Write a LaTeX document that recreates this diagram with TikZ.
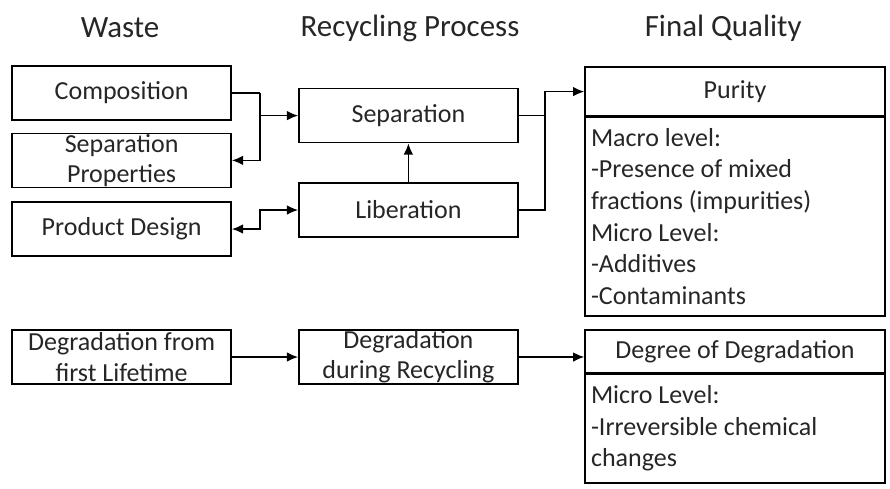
\documentclass[tikz,border=0pt]{standalone}
\usepackage{fontspec}
\setmainfont{Carlito}
\usetikzlibrary{arrows.meta}
\usetikzlibrary{calc}

\begin{document}
\begin{tikzpicture}[>={Latex[length=0.28cm,width=0.24cm]},
  box node/.style={draw,line width=1.1pt,minimum width=5.475cm,minimum height=1.35cm,inner sep=0pt,align=center,text=black!85,font=\fontsize{18.5}{21.5}\selectfont},
  head node/.style={text=black!85,font=\fontsize{22}{26}\selectfont},
  quality node/.style={draw,line width=1.1pt,minimum width=7.5cm,inner sep=0pt,text=black!85,font=\fontsize{18.5}{21}\selectfont},
  list node/.style={draw,line width=1.1pt,anchor=north,text width=7.2cm,inner xsep=0.15cm,inner ysep=0pt,align=flush left,text=black!85,font=\fontsize{18.5}{22.5}\selectfont}]
  \useasboundingbox (0,0) rectangle (22.25,-12.2);

  \node[head node] (waste) at (3.0,-0.7) {Waste};
  \node[head node] (process) at (10.25,-0.7) {Recycling Process};
  \node[head node] (final) at (18.08,-0.7) {Final Quality};

  \node[box node] (comp) at (3.04,-2.325) {Composition};
  \node[box node] (sepprop) at (3.04,-4.01) {Separation\\Properties};
  \node[box node] (design) at (3.04,-5.725) {Product Design};
  \node[box node] (firstlife) at (3.04,-8.925) {Degradation from\\first Lifetime};

  \node[box node] (separation) at (10.21,-2.89) {Separation};
  \node[box node] (liberation) at (10.21,-5.25) {Liberation};
  \node[box node] (duringrec) at (10.21,-8.925) {Degradation\\during Recycling};

  \node[quality node,minimum height=1.225cm] (purity) at (18.375,-2.29) {Purity};
  \node[list node,minimum height=4.975cm] (puritylist) at (18.375,-2.9) {Macro level:\\-Presence of mixed\\fractions (impurities)\\Micro Level:\\-Additives\\-Contaminants};
  \node[quality node,minimum height=1.075cm] (degree) at (18.375,-8.79) {Degree of Degradation};
  \node[list node,minimum height=2.725cm] (degreelist) at (18.375,-9.325) {Micro Level:\\-Irreversible chemical\\changes};

  \coordinate (wastejoin) at ($(comp.east)+(0.7,0)$);
  \coordinate (designjoin) at ($(design.east)+(0.7,0)$);
  \coordinate (qualjoin) at (13.625,-2.29);

  \draw[line width=1.1pt] (comp) -- (wastejoin);
  \draw[->,line width=1.1pt] (wastejoin) |- (sepprop);
  \draw[->,line width=1.1pt] (wastejoin |- separation) -- (separation);
  \draw[<->,line width=1.1pt] (design) -- (designjoin) |- (liberation);
  \draw[->,line width=1.1pt] (liberation) -- (separation);
  \draw[->,line width=1.1pt] (separation) -| (qualjoin) -- (purity);
  \draw[line width=1.1pt] (liberation) -| (qualjoin);
  \draw[->,line width=1.1pt] (firstlife) -- (duringrec);
  \draw[->,line width=1.1pt] (duringrec) -- (duringrec -| degree.west);

\end{tikzpicture}
\end{document}
